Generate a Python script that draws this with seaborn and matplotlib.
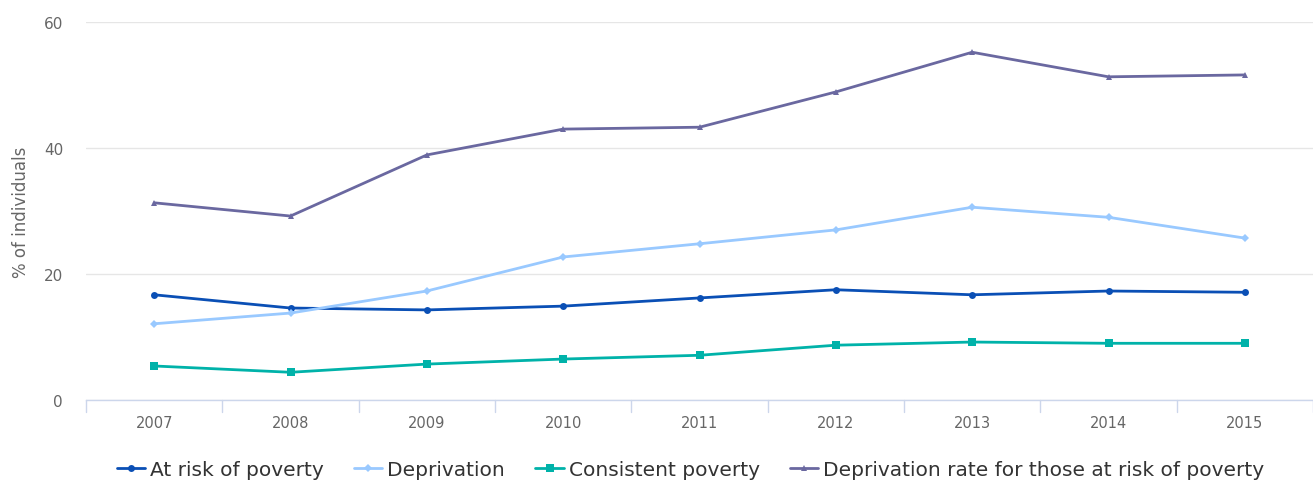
import numpy as np
import pandas as pd
import matplotlib
matplotlib.use("Agg")
import matplotlib.pyplot as plt
import seaborn as sns

years = ["2007", "2008", "2009", "2010", "2011", "2012", "2013", "2014", "2015"]
at_risk = [16.7, 14.6, 14.3, 14.9, 16.2, 17.5, 16.7, 17.3, 17.1]
deprivation = [12.1, 13.8, 17.3, 22.7, 24.8, 27.0, 30.6, 29.0, 25.7]
consistent = [5.4, 4.4, 5.7, 6.5, 7.1, 8.7, 9.2, 9.0, 9.0]
dep_rate = [31.3, 29.2, 38.9, 43.0, 43.3, 48.9, 55.2, 51.3, 51.6]

series_names = ["At risk of poverty", "Deprivation", "Consistent poverty",
                "Deprivation rate for those at risk of poverty"]
series_vals = [at_risk, deprivation, consistent, dep_rate]
colors = ["#0a4fb5", "#99c9ff", "#00b2a9", "#6a68a0"]
markers = ["o", "D", "s", "^"]
msizes = [5, 4, 6, 5]

sns.set_style("white")
plt.rcParams["font.family"] = ["DejaVu Sans"]

fig = plt.figure(figsize=(13.13, 4.81), dpi=100)
ax = fig.add_axes([86 / 1313, 80 / 481, (1313 - 86) / 1313, 378 / 481])

rows = []
for name, vals in zip(series_names, series_vals):
    for i, (y, v) in enumerate(zip(years, vals)):
        rows.append({"idx": i, "year": y, "value": v, "series": name})
df = pd.DataFrame(rows)

for name, col, mk, ms in zip(series_names, colors, markers, msizes):
    sub = df[df["series"] == name]
    sns.lineplot(data=sub, x="idx", y="value", ax=ax, color=col, marker=mk,
                 markersize=ms, markeredgewidth=0, linewidth=2.0, label=name,
                 legend=False)

ax.set_xlim(-0.5, len(years) - 0.5)
ax.set_ylim(0, 60)
ax.set_yticks([0, 20, 40, 60])
ax.set_xticks(range(len(years)))
ax.set_xticklabels(years)
ax.grid(axis="y", color="#e6e6e6", linewidth=1)
ax.set_axisbelow(True)
for s in ["top", "right", "left"]:
    ax.spines[s].set_visible(False)
ax.spines["bottom"].set_color("#ccd6eb")
ax.spines["bottom"].set_linewidth(1)

ax.tick_params(axis="y", length=0, labelsize=11, labelcolor="#666666", pad=16.5)
ax.tick_params(axis="x", length=0, labelsize=10.5, labelcolor="#666666", pad=11)
# category boundary ticks
for b in np.arange(-0.5, len(years), 1.0):
    ax.plot([b, b], [0, -0.032], transform=ax.get_xaxis_transform(),
            color="#ccd6eb", linewidth=1, clip_on=False)

ax.set_xlabel("")
ax.set_ylabel("% of individuals", fontsize=12, color="#666666")
ax.yaxis.set_label_coords(-0.046, 0.5)

handles, labels = ax.get_legend_handles_labels()
leg = fig.legend(handles, labels, loc="center", bbox_to_anchor=(0.526, 20 / 481 * 0.5),
                 ncol=4, frameon=False, fontsize=14.5, handlelength=1.4,
                 handletextpad=0.25, columnspacing=1.5, labelcolor="#333333")

fig.savefig("out.png", dpi=100)
